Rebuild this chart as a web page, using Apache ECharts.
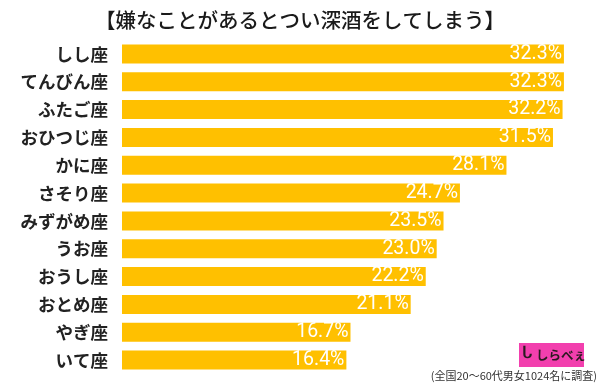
<!DOCTYPE html>
<html>
<head>
<meta charset="utf-8">
<script src="https://cdn.jsdelivr.net/npm/echarts@6/dist/echarts.min.js"></script>
<style>
html,body{margin:0;padding:0;background:#fff;}
#chart{width:600px;height:385px;}
</style>
</head>
<body>
<div id="chart"></div>
<script>
const titleText = '【嫌なことがあるとつい深酒をしてしまう】';
const categories = ['しし座','てんびん座','ふたご座','おひつじ座','かに座','さそり座','みずがめ座','うお座','おうし座','おとめ座','やぎ座','いて座'];
const values = [32.3, 32.3, 32.2, 31.5, 28.1, 24.7, 23.5, 23.0, 22.2, 21.1, 16.7, 16.4];
const footnote = '(全国20〜60代男女1024名に調査)';
const logoText = 'しらべぇ';

const chart = echarts.init(document.getElementById('chart'), null, {renderer: 'canvas'});
chart.setOption({
  animation: false,
  backgroundColor: '#ffffff',
  title: {
    text: titleText,
    left: 'center',
    top: 5,
    textStyle: {
      fontFamily: '"Noto Sans CJK JP", sans-serif',
      fontSize: 20.5,
      fontWeight: 500,
      color: '#1a1a1a'
    }
  },
  grid: {
    left: 122,
    right: 26.5,
    top: 40,
    height: 334,
    containLabel: false
  },
  xAxis: {
    type: 'value',
    min: 0,
    max: 33,
    show: false
  },
  yAxis: {
    type: 'category',
    data: categories,
    inverse: true,
    axisLine: {show: false},
    axisTick: {show: false},
    splitLine: {show: false},
    axisLabel: {
      margin: 14,
      fontFamily: '"Noto Sans CJK JP", sans-serif',
      fontSize: 17.5,
      fontWeight: 'bold',
      color: '#222222'
    }
  },
  series: [{
    type: 'bar',
    data: values,
    barWidth: 19,
    itemStyle: {color: '#FFC000'},
    label: {
      show: true,
      position: 'insideRight',
      distance: 2,
      formatter: p => p.value.toFixed(1) + '%',
      fontFamily: 'Roboto, "Liberation Sans", sans-serif',
      fontSize: 19.5,
      fontWeight: 400,
      color: '#ffffff'
    }
  }],
  graphic: [
    {
      type: 'text',
      right: 3,
      top: 370,
      style: {
        text: footnote,
        fontFamily: '"Noto Sans CJK JP", sans-serif',
        fontSize: 11,
        fill: '#333333'
      }
    },
    {
      type: 'group',
      left: 519,
      top: 343,
      children: [
        {type: 'rect', shape: {x: 0, y: 0, width: 65, height: 24}, style: {fill: '#F23FAE'}},
        {type: 'text', style: {x: 3, y: 3, text: 'ᒐ', fontSize: 16, fontWeight: 'bold', fill: '#2a1a20'}},
        {type: 'text', style: {x: 17, y: 6, text: logoText, fontFamily: '"Noto Sans CJK JP", sans-serif', fontSize: 12.5, fontWeight: 'bold', fill: '#2a1a20'}}
      ]
    }
  ]
});
</script>
</body>
</html>
